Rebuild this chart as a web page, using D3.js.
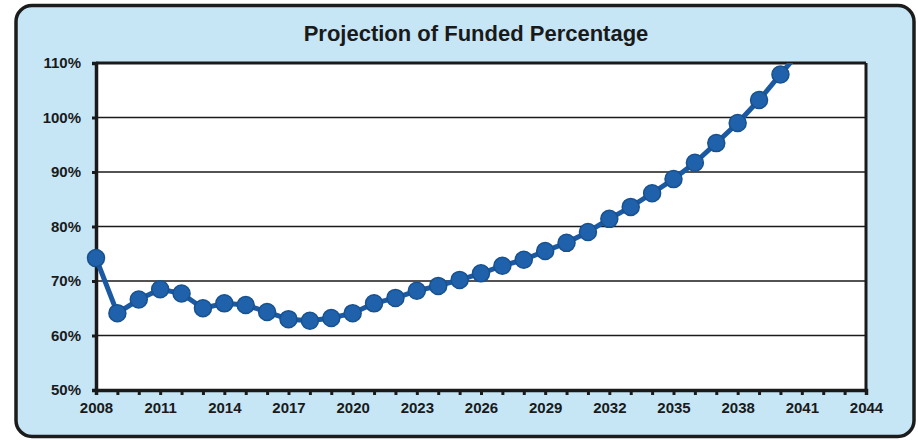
<!DOCTYPE html>
<html>
<head>
<meta charset="utf-8">
<script src="https://cdn.jsdelivr.net/npm/d3@7"></script>
<style>
  html, body { margin: 0; padding: 0; background: #ffffff; }
  svg { display: block; }
  text { font-family: "Liberation Sans", Arial, sans-serif; font-weight: bold; fill: #1a1a1a; }
</style>
</head>
<body>
<svg id="chart" width="918" height="440"></svg>
<script>
// Projected funded percentage by plan year
const years = [2008, 2009, 2010, 2011, 2012, 2013, 2014, 2015, 2016, 2017, 2018, 2019,
  2020, 2021, 2022, 2023, 2024, 2025, 2026, 2027, 2028, 2029, 2030, 2031, 2032, 2033,
  2034, 2035, 2036, 2037, 2038, 2039, 2040, 2041];
const fundedPct = [74.2, 64.1, 66.6, 68.5, 67.7, 65.0, 65.9, 65.6, 64.3, 63.0, 62.7, 63.2,
  64.1, 65.9, 66.9, 68.2, 69.1, 70.2, 71.4, 72.8, 73.9, 75.5, 77.0, 79.0, 81.4, 83.6,
  86.1, 88.7, 91.7, 95.3, 99.0, 103.2, 107.9, 112.6];
const xTickYears = [2008, 2011, 2014, 2017, 2020, 2023, 2026, 2029, 2032, 2035, 2038, 2041, 2044];
const yTicks = [50, 60, 70, 80, 90, 100, 110];
const title = "Projection of Funded Percentage";

const svg = d3.select("#chart");
const plot = { left: 96, right: 866, top: 63, bottom: 390 };
const labelFont = 15;

// Outer panel
svg.append("rect")
  .attr("x", 16).attr("y", 5.5)
  .attr("width", 898).attr("height", 431)
  .attr("rx", 16).attr("ry", 16)
  .attr("fill", "#c6e6f6")
  .attr("stroke", "#1c1c1c")
  .attr("stroke-width", 3.5);

svg.append("text")
  .attr("x", 476).attr("y", 41)
  .attr("text-anchor", "middle")
  .attr("font-size", 22)
  .text(title);

const x = d3.scaleLinear().domain([2008, 2044]).range([plot.left, plot.right]);
const y = d3.scaleLinear().domain([50, 110]).range([plot.bottom, plot.top]);

// Plot area
svg.append("rect")
  .attr("x", plot.left).attr("y", plot.top)
  .attr("width", plot.right - plot.left).attr("height", plot.bottom - plot.top)
  .attr("fill", "#ffffff");

// Horizontal gridlines
svg.append("g")
  .selectAll("line")
  .data(yTicks.filter(v => v > 50 && v < 110))
  .join("line")
  .attr("x1", plot.left).attr("x2", plot.right)
  .attr("y1", d => y(d)).attr("y2", d => y(d))
  .attr("stroke", "#1a1a1a").attr("stroke-width", 1.3);

// Plot frame: top, right
svg.append("line")
  .attr("x1", plot.left).attr("x2", plot.right)
  .attr("y1", plot.top).attr("y2", plot.top)
  .attr("stroke", "#1a1a1a").attr("stroke-width", 3);
svg.append("line")
  .attr("x1", plot.right).attr("x2", plot.right)
  .attr("y1", plot.top).attr("y2", plot.bottom)
  .attr("stroke", "#1a1a1a").attr("stroke-width", 3);

function styleLabels(g) {
  g.selectAll(".tick text")
    .attr("font-size", labelFont)
    .attr("font-family", "Liberation Sans, Arial, sans-serif")
    .attr("font-weight", "bold")
    .attr("fill", "#1a1a1a");
}

// Y axis
const yAxis = svg.append("g")
  .attr("transform", `translate(${plot.left},0)`)
  .call(d3.axisLeft(y).tickValues(yTicks).tickFormat(d => d + "%").tickSize(4).tickPadding(11));
yAxis.select(".domain").attr("stroke", "#1a1a1a").attr("stroke-width", 3.5);
yAxis.selectAll(".tick line").attr("stroke", "#1a1a1a").attr("stroke-width", 3);
styleLabels(yAxis);

// X axis: a tick every year, a label every three
const xAxis = svg.append("g")
  .attr("transform", `translate(0,${plot.bottom})`)
  .call(d3.axisBottom(x).tickValues(d3.range(2008, 2045)).tickSize(5).tickPadding(7)
    .tickFormat(d => xTickYears.includes(d) ? String(d) : ""));
xAxis.select(".domain").attr("stroke", "#1a1a1a").attr("stroke-width", 3.5);
xAxis.selectAll(".tick line").attr("stroke", "#1a1a1a").attr("stroke-width", 3);
styleLabels(xAxis);

// Series, clipped to the plot area
svg.append("clipPath").attr("id", "plotClip")
  .append("rect")
  .attr("x", plot.left - 12).attr("y", plot.top)
  .attr("width", plot.right - plot.left + 12).attr("height", plot.bottom - plot.top);

const series = svg.append("g").attr("clip-path", "url(#plotClip)");
const pts = years.map((yr, i) => [yr, fundedPct[i]]);

series.append("path")
  .datum(pts)
  .attr("d", d3.line().x(d => x(d[0])).y(d => y(d[1])))
  .attr("fill", "none")
  .attr("stroke", "#1b5aa2")
  .attr("stroke-width", 5)
  .attr("stroke-linejoin", "round");

series.selectAll("circle")
  .data(pts)
  .join("circle")
  .attr("cx", d => x(d[0]))
  .attr("cy", d => y(d[1]))
  .attr("r", 8.5)
  .attr("fill", "#1f62ab")
  .attr("stroke", "#18518f")
  .attr("stroke-width", 1.5);
</script>
</body>
</html>
